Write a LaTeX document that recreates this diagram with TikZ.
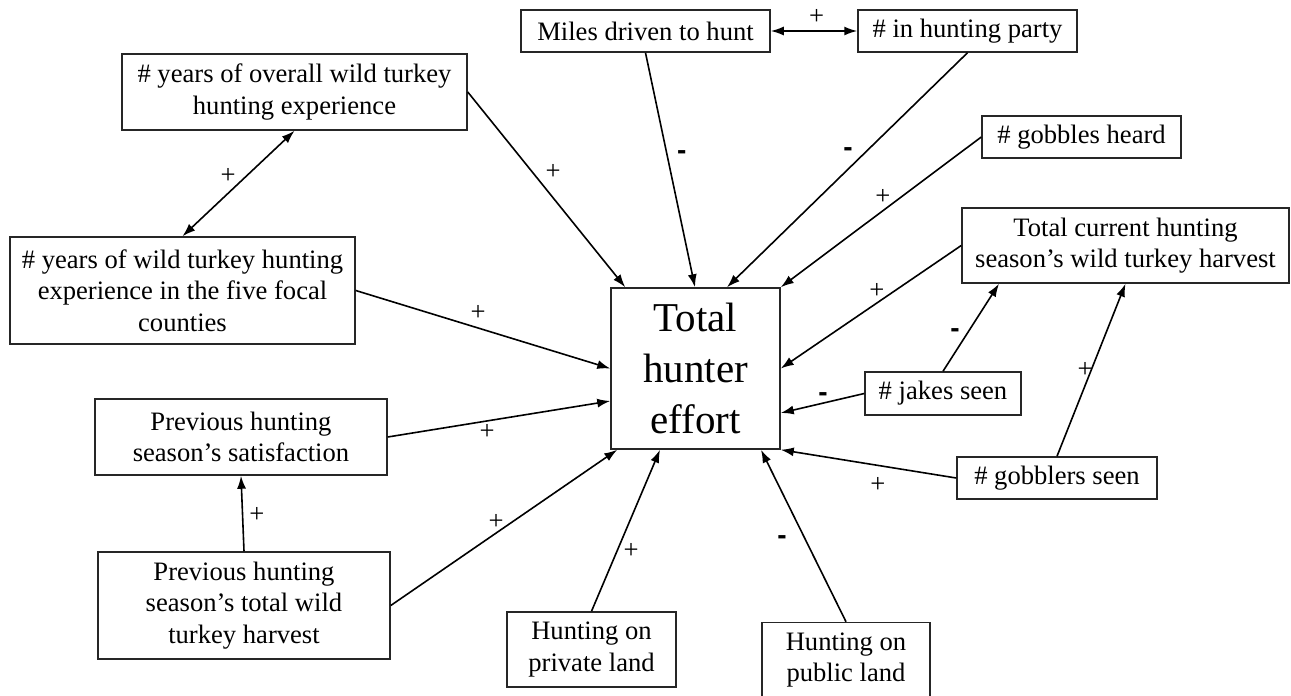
\documentclass[tikz,border=0pt]{standalone}
\usepackage{fontspec}
\setmainfont{Liberation Serif}
\newfontfamily\lblsans{Liberation Sans}
\usetikzlibrary{arrows.meta,calc}
\begin{document}
\begin{tikzpicture}[x=0.5pt,y=-0.5pt,
  box/.style={draw=black!85, line width=0.75pt, inner sep=0pt, align=center,
    font=\fontsize{13.3}{15.8}\selectfont},
  bigbox/.style={draw=black!85, line width=0.75pt, inner sep=0pt, align=center,
    font=\fontsize{20.5}{25.5}\selectfont},
  conn/.style={line width=0.8pt, -{Latex[length=6.5pt,width=4.5pt]}},
  both/.style={line width=0.8pt, {Latex[length=6.5pt,width=4.5pt]}-{Latex[length=6.5pt,width=4.5pt]}},
  plus/.style={font=\fontsize{13.3}{14}\selectfont, inner sep=0pt},
  minus/.style={font=\lblsans\bfseries\fontsize{14}{14}\selectfont, inner sep=0pt}]
\useasboundingbox (0,0) rectangle (1291,696);

% nodes
\node[box, minimum width=124.5pt, minimum height=21pt] (miles) at (645.5,31) {Miles driven to hunt};
\node[box, minimum width=109.5pt, minimum height=21pt] (party) at (967.5,31) {\# in hunting party};
\node[box, minimum width=172.5pt, minimum height=38pt] (overall) at (294.5,92) {\# years of overall wild turkey\\hunting experience};
\node[box, minimum width=99.5pt, minimum height=21pt] (gobbles) at (1081.5,137) {\# gobbles heard};
\node[box, minimum width=163.5pt, minimum height=37.5pt] (current) at (1125.5,245.5) {Total current hunting\\season’s wild turkey harvest};
\node[box, minimum width=172.5pt, minimum height=53.5pt] (focal) at (182.5,290.5) {\# years of wild turkey hunting\\experience in the five focal\\counties};
\node[bigbox, minimum width=84.5pt, minimum height=80.5pt] (effort) at (695.5,368.5) {Total\\hunter\\effort};
\node[box, minimum width=78pt, minimum height=21.5pt] (jakes) at (943,393.5) {\# jakes seen};
\node[box, minimum width=146pt, minimum height=38pt] (satisf) at (241,437) {Previous hunting\\season’s satisfaction};
\node[box, minimum width=100pt, minimum height=21pt] (gobblers) at (1057,478) {\# gobblers seen};
\node[box, minimum width=146pt, minimum height=53.5pt] (prevtotal) at (244,605.5) {Previous hunting\\season’s total wild\\turkey harvest};
\node[box, minimum width=84.5pt, minimum height=37.5pt] (private) at (591.5,649.5) {Hunting on\\private land};
\node[box, minimum width=84pt, minimum height=37.5pt] (public) at (846,660) {Hunting on\\public land};

% connectors
\draw[both] (miles.east) -- node[plus, pos=0.53, yshift=7pt] {+} (party.west);
\draw[both] (overall.south) -- node[plus, pos=0.516, xshift=-4.35pt, yshift=4.6pt] {+} (focal.north);
\draw[conn] (miles.south) -- node[minus, pos=0.449, xshift=7pt, yshift=1.5pt] {-} ($(effort.north)+(-0.5,0)$);
\draw[conn] (party.south) -- node[minus, pos=0.461, xshift=-4.3pt, yshift=4.4pt] {-} ($(effort.north)+(31.5,0)$);
\draw[conn] (gobbles.west) -- node[plus, pos=0.457, xshift=-3.35pt, yshift=4.5pt] {+} (effort.north east);
\draw[conn] (current.west) -- node[plus, pos=0.437, xshift=-2.75pt, yshift=4.1pt] {+} (effort.east);
\draw[conn] (jakes.west) -- node[minus, pos=0.478, xshift=-0.65pt, yshift=2.9pt] {-} ($(effort.east)+(0,44.5)$);
\draw[conn] (gobblers.west) -- node[plus, pos=0.428, xshift=-1.6pt, yshift=-9.7pt] {+} (effort.south east);
\draw[conn] (jakes.north) -- node[minus, pos=0.375, xshift=-4.5pt, yshift=2.8pt] {-} ($(current.south)+(-126.5,0)$);
\draw[conn] (gobblers.north) -- node[plus, pos=0.488, xshift=-2.7pt, yshift=1pt] {+} (current.south);
\draw[conn] (public.north) -- node[minus, pos=0.529, xshift=-9.5pt, yshift=-4.65pt] {-} ($(effort.south)+(65.5,0)$);
\draw[conn] (private.north) -- node[plus, pos=0.405, xshift=5.9pt, yshift=-2.5pt] {+} ($(effort.south)+(-35.5,0)$);
\draw[conn] (prevtotal.east) -- node[plus, pos=0.487, xshift=-2.5pt, yshift=3.65pt] {+} ($(effort.south west)+(7,0)$);
\draw[conn] (prevtotal.north) -- node[plus, pos=0.48, xshift=7.2pt] {+} (satisf.south);
\draw[conn] (satisf.east) -- node[plus, pos=0.439, xshift=0.8pt, yshift=-5.2pt] {+} ($(effort.west)+(0,32.5)$);
\draw[conn] (focal.east) -- node[plus, pos=0.464, xshift=2.1pt, yshift=6.85pt] {+} (effort.west);
\draw[conn] (overall.east) -- node[plus, pos=0.461, xshift=6.35pt, yshift=5.15pt] {+} ($(effort.north west)+(15,0)$);
\end{tikzpicture}
\end{document}
